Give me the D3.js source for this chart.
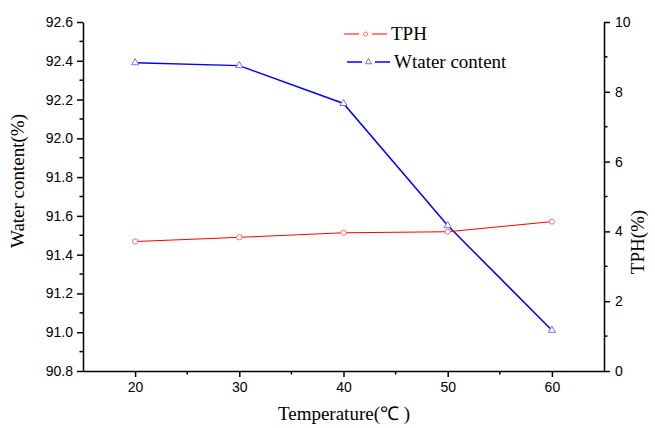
<!DOCTYPE html>
<html>
<head>
<meta charset="utf-8">
<script src="https://cdn.jsdelivr.net/npm/d3@7"></script>
<style>
  html, body { margin: 0; padding: 0; background: #fff; }
  svg { display: block; }
  .tick text { font-family: "Liberation Sans", Arial, sans-serif; font-size: 14px; fill: #000; }
  .title { font-family: "Liberation Serif", "Times New Roman", serif; font-size: 19px; fill: #000; }
</style>
</head>
<body>
<svg id="chart" width="655" height="428"></svg>
<script>
// Drying temperature vs. water content and TPH
const temperatures = [20, 30, 40, 50, 60];
const waterContent = [92.39, 92.375, 92.18, 91.55, 91.01];
const tph = [3.71, 3.83, 3.96, 3.99, 4.28];
const xTicks = [20, 30, 40, 50, 60];
const waterTicks = [90.8, 91.0, 91.2, 91.4, 91.6, 91.8, 92.0, 92.2, 92.4, 92.6];
const tphTicks = [0, 2, 4, 6, 8, 10];
const legendLabels = ["TPH", "Wtater content"];

const svg = d3.select("#chart");
const plotLeft = 83, plotRight = 604, plotTop = 22, plotBottom = 371;

const x = d3.scaleLinear().domain([15, 65]).range([plotLeft, plotRight]);
const yW = d3.scaleLinear().domain([90.8, 92.6]).range([plotBottom, plotTop]);
const yT = d3.scaleLinear().domain([0, 10]).range([plotBottom, plotTop]);

function styleAxis(g) {
  g.selectAll("path.domain").attr("stroke", "#000").attr("stroke-width", 1.5);
  g.selectAll(".tick line").attr("stroke", "#000").attr("stroke-width", 1.5);
}

// minor ticks
function minor(g, values, fn) {
  g.selectAll(null).data(values).enter().append("line")
    .attr("stroke", "#000").attr("stroke-width", 1.5)
    .each(function (d) { fn(d3.select(this), d); });
}

// bottom axis
const gx = svg.append("g").attr("transform", `translate(0,${plotBottom})`)
  .call(d3.axisBottom(x).tickValues(xTicks).tickSize(6).tickPadding(5).tickSizeOuter(0));
styleAxis(gx);
minor(gx, [25, 35, 45, 55], (l, d) => l.attr("x1", x(d)).attr("x2", x(d)).attr("y1", 0).attr("y2", 3.5));

// left axis
const gl = svg.append("g").attr("transform", `translate(${plotLeft},0)`)
  .call(d3.axisLeft(yW).tickValues(waterTicks).tickFormat(d3.format(".1f")).tickSize(6).tickPadding(4).tickSizeOuter(0));
styleAxis(gl);
minor(gl, waterTicks.slice(0, -1).map(v => v + 0.1), (l, d) => l.attr("y1", yW(d)).attr("y2", yW(d)).attr("x1", 0).attr("x2", -3.5));

// right axis
const gr = svg.append("g").attr("transform", `translate(${plotRight},0)`)
  .call(d3.axisRight(yT).tickValues(tphTicks).tickSize(6).tickPadding(5).tickSizeOuter(0));
styleAxis(gr);
minor(gr, [1, 3, 5, 7, 9], (l, d) => l.attr("y1", yT(d)).attr("y2", yT(d)).attr("x1", 0).attr("x2", 3.5));

// axis titles
svg.append("text").attr("class", "title")
  .attr("x", 344).attr("y", 420).attr("text-anchor", "middle")
  .text("Temperature(℃ )");
svg.append("text").attr("class", "title")
  .attr("transform", "translate(24,181) rotate(-90)")
  .attr("text-anchor", "middle").text("Water content(%)");
svg.append("text").attr("class", "title")
  .attr("transform", "translate(644,242) rotate(-90)")
  .attr("text-anchor", "middle").text("TPH(%)");

// series
const tphData = temperatures.map((t, i) => [t, tph[i]]);
const waterData = temperatures.map((t, i) => [t, waterContent[i]]);

svg.append("path").datum(waterData)
  .attr("fill", "none").attr("stroke", "#0000ff").attr("stroke-width", 1.5)
  .attr("d", d3.line().x(d => x(d[0])).y(d => yW(d[1])));
svg.append("path").datum(tphData)
  .attr("fill", "none").attr("stroke", "#ff0000").attr("stroke-width", 1)
  .attr("d", d3.line().x(d => x(d[0])).y(d => yT(d[1])));

const tri = d3.symbol().type(d3.symbolTriangle).size(22);
svg.selectAll(".wpt").data(waterData).enter().append("path")
  .attr("class", "wpt")
  .attr("transform", d => `translate(${x(d[0])},${yW(d[1])})`)
  .attr("d", tri).attr("fill", "#fff").attr("stroke", "#7070ff").attr("stroke-width", 1);
svg.selectAll(".tpt").data(tphData).enter().append("circle")
  .attr("class", "tpt")
  .attr("cx", d => x(d[0])).attr("cy", d => yT(d[1])).attr("r", 2.6)
  .attr("fill", "#fff").attr("stroke", "#ff7070").attr("stroke-width", 1);

// legend
const lg = svg.append("g");
const legendRows = [
  { label: legendLabels[0], color: "#ff0000", mark: "#ff7070", y: 34, x0: 344, sym: "circle" },
  { label: legendLabels[1], color: "#0000ff", mark: "#7070ff", y: 62, x0: 347, sym: "triangle" }
];
legendRows.forEach(r => {
  lg.append("line").attr("x1", r.x0).attr("x2", r.x0 + 15).attr("y1", r.y).attr("y2", r.y)
    .attr("stroke", r.color).attr("stroke-width", r.sym === "circle" ? 1 : 1.5);
  lg.append("line").attr("x1", r.x0 + 28).attr("x2", r.x0 + 43).attr("y1", r.y).attr("y2", r.y)
    .attr("stroke", r.color).attr("stroke-width", r.sym === "circle" ? 1 : 1.5);
  if (r.sym === "circle") {
    lg.append("circle").attr("cx", r.x0 + 21.5).attr("cy", r.y).attr("r", 2)
      .attr("fill", "#fff").attr("stroke", r.mark);
  } else {
    lg.append("path").attr("transform", `translate(${r.x0 + 21.5},${r.y})`)
      .attr("d", d3.symbol().type(d3.symbolTriangle).size(16))
      .attr("fill", "#fff").attr("stroke", r.mark);
  }
  lg.append("text").attr("class", "title").attr("x", r.x0 + 47).attr("y", r.y + 6).text(r.label);
});
</script>
</body>
</html>
